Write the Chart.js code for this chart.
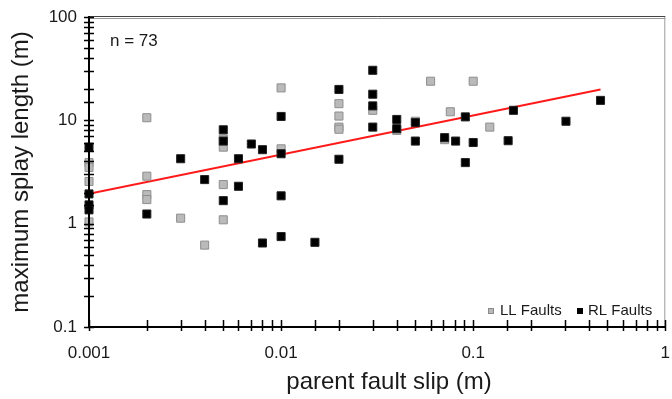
<!DOCTYPE html>
<html>
<head>
<meta charset="utf-8">
<script src="https://cdn.jsdelivr.net/npm/chart.js@4/dist/chart.umd.min.js"></script>
<style>
  body { margin: 0; background: #fff; }
  canvas { display: block; }
</style>
</head>
<body>
<canvas id="splay" width="672" height="399"></canvas>
<script>
// left-lateral faults (grey squares)
const llSlip   = [0.001, 0.001, 0.001, 0.001, 0.002, 0.002, 0.002, 0.002, 0.003, 0.004,
                  0.005, 0.005, 0.005, 0.005, 0.01, 0.01, 0.02, 0.02, 0.02, 0.02,
                  0.03, 0.04, 0.05, 0.06, 0.071, 0.076, 0.1, 0.122];
const llLength = [3.9, 3.5, 2.56, 1.04, 10.6, 2.88, 1.91, 1.71, 1.13, 0.62,
                  6.6, 5.5, 2.39, 1.09, 20.6, 5.3, 14.5, 11, 8.6, 8.2,
                  12.5, 8.0, 9.8, 23.9, 6.5, 12.1, 23.9, 8.6];

// right-lateral faults (black squares)
const rlSlip   = [0.001, 0.001, 0.001, 0.001, 0.002, 0.003, 0.004, 0.005, 0.005, 0.005,
                  0.006, 0.006, 0.007, 0.008, 0.008, 0.01, 0.01, 0.01, 0.01, 0.015,
                  0.02, 0.02, 0.03, 0.03, 0.03, 0.03, 0.04, 0.04, 0.05, 0.05,
                  0.071, 0.081, 0.091, 0.091, 0.1, 0.152, 0.162, 0.304, 0.46];
const rlLength = [5.5, 1.94, 1.52, 1.36, 1.24, 4.25, 2.67, 8.1, 6.3, 1.67,
                  4.25, 2.3, 5.9, 5.2, 0.65, 10.9, 4.75, 1.86, 0.75, 0.66,
                  19.9, 4.2, 30.5, 17.9, 13.8, 8.6, 10.2, 8.3, 9.5, 6.3,
                  6.8, 6.3, 10.8, 3.9, 6.1, 6.35, 12.5, 9.8, 15.6];

// power-law fit, end points
const fitSlip   = [0.001, 0.46];
const fitLength = [1.95, 19.9];

const xTicks = [0.001, 0.01, 0.1, 1];
const yTicks = [0.1, 1, 10, 100];

const FONT = '"Liberation Sans", Arial, sans-serif';

const pairs = (xs, ys) => xs.map((x, i) => ({ x: x, y: ys[i] }));
const isDecade = v => Math.abs(Math.log10(v) - Math.round(Math.log10(v))) < 1e-6;
const decadeLabel = v => isDecade(v) ? String(Number(v.toPrecision(1))) : '';

// axes frame, crossing tick marks, x title, legend and n label
const frame = {
  id: 'frame',
  afterDatasetsDraw(chart) {
    const ctx = chart.ctx;
    const a = chart.chartArea;
    const xs = chart.scales.x, ys = chart.scales.y;
    ctx.save();

    ctx.strokeStyle = '#9a9a9a';
    ctx.lineWidth = 1;
    ctx.beginPath();
    ctx.moveTo(a.right - 0.5, a.top);
    ctx.lineTo(a.right - 0.5, a.bottom);
    ctx.moveTo(a.left, a.top + 1.5);
    ctx.lineTo(a.right, a.top + 1.5);
    ctx.stroke();
    ctx.strokeStyle = '#444';
    ctx.beginPath();
    ctx.moveTo(a.left, a.top - 0.5);
    ctx.lineTo(a.right, a.top - 0.5);
    ctx.stroke();

    ctx.strokeStyle = '#000';
    ctx.lineWidth = 2;
    ctx.beginPath();
    ctx.moveTo(a.left, a.top - 1);
    ctx.lineTo(a.left, a.bottom);
    ctx.lineTo(a.right, a.bottom);
    ctx.stroke();

    ctx.lineWidth = 1.5;
    ctx.beginPath();
    xs.ticks.forEach(t => {
      const px = Math.round(xs.getPixelForValue(t.value)) + 0.5;
      ctx.moveTo(px, a.bottom - 7);
      ctx.lineTo(px, a.bottom + 4);
    });
    ys.ticks.forEach(t => {
      const py = Math.round(ys.getPixelForValue(t.value)) + 0.5;
      ctx.moveTo(a.left - 5, py);
      ctx.lineTo(a.left + 5, py);
    });
    ctx.stroke();

    ctx.fillStyle = '#1a1a1a';
    ctx.font = '17px ' + FONT;
    ctx.textBaseline = 'alphabetic';
    ctx.fillText('n = 73', a.left + 21, a.top + 29);

    // x axis title, sits a little right of the plot centre
    ctx.font = '24px ' + FONT;
    ctx.textAlign = 'center';
    ctx.textBaseline = 'middle';
    ctx.fillText('parent fault slip (m)', a.left + 300, a.bottom + 55);
    ctx.textAlign = 'left';

    // legend
    ctx.font = '15px ' + FONT;
    const ly = a.bottom - 16;
    ctx.fillStyle = '#b8b8b8';
    ctx.fillRect(a.left + 399, ly - 3, 6, 6);
    ctx.strokeStyle = '#8a8a8a';
    ctx.lineWidth = 1;
    ctx.strokeRect(a.left + 399.5, ly - 2.5, 5, 5);
    ctx.fillStyle = '#1a1a1a';
    ctx.fillText('LL Faults', a.left + 411, ly);
    ctx.fillStyle = '#000';
    ctx.fillRect(a.left + 488, ly - 3, 6, 6);
    ctx.fillStyle = '#1a1a1a';
    ctx.fillText('RL Faults', a.left + 499, ly);
    ctx.restore();
  }
};

new Chart(document.getElementById('splay'), {
  type: 'scatter',
  data: {
    datasets: [
      {
        type: 'line',
        label: 'fit',
        data: pairs(fitSlip, fitLength),
        borderColor: '#ff1a1a',
        borderWidth: 2,
        pointRadius: 0,
        order: 3
      },
      {
        label: 'RL Faults',
        data: pairs(rlSlip, rlLength),
        pointStyle: 'rect',
        pointRadius: 5.7,
        backgroundColor: '#000',
        borderColor: '#222',
        borderWidth: 1,
        clip: false,
        order: 1
      },
      {
        label: 'LL Faults',
        data: pairs(llSlip, llLength),
        pointStyle: 'rect',
        pointRadius: 5.7,
        backgroundColor: '#bababa',
        borderColor: '#8e8e8e',
        borderWidth: 1,
        clip: false,
        order: 2
      }
    ]
  },
  options: {
    responsive: false,
    animation: false,
    layout: { padding: { left: 0, top: 17, right: 4, bottom: 0 } },
    plugins: {
      legend: { display: false },
      tooltip: { enabled: false }
    },
    scales: {
      x: {
        type: 'logarithmic',
        min: xTicks[0],
        max: xTicks[xTicks.length - 1],
        grid: { display: false, drawTicks: false },
        border: { display: false },
        afterFit: s => { s.height = 72; s.paddingLeft = 0; s.paddingRight = 0; },
        ticks: {
          autoSkip: false,
          maxRotation: 0,
          padding: 16,
          color: '#1a1a1a',
          font: { family: FONT, size: 17 },
          callback: v => decadeLabel(v)
        }
      },
      y: {
        type: 'logarithmic',
        min: yTicks[0],
        max: yTicks[yTicks.length - 1],
        grid: { display: false, drawTicks: false },
        border: { display: false },
        afterFit: s => { s.width = 89; s.paddingTop = 0; s.paddingBottom = 0; },
        ticks: {
          autoSkip: false,
          padding: 12,
          color: '#1a1a1a',
          font: { family: FONT, size: 17 },
          callback: v => decadeLabel(v)
        },
        title: {
          display: true,
          text: 'maximum splay length (m)',
          color: '#1a1a1a',
          font: { family: FONT, size: 24 },
          padding: { top: 7, bottom: 0 }
        }
      }
    }
  },
  plugins: [frame]
});
</script>
</body>
</html>
